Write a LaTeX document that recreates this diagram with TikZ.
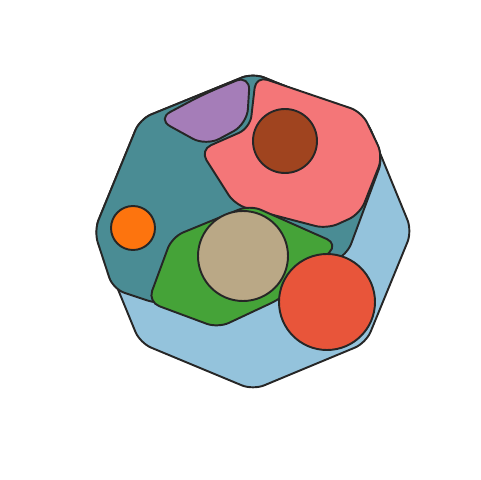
\documentclass[tikz,border=0pt]{standalone}
\usepackage{xcolor}
\usepackage{tikz}

\definecolor{skyblue}{HTML}{94C3DC}
\definecolor{tealgray}{HTML}{4A8C94}
\definecolor{lilac}{HTML}{A57DB8}
\definecolor{salmon}{HTML}{F47678}
\definecolor{rust}{HTML}{A0441F}
\definecolor{leaf}{HTML}{45A338}
\definecolor{sand}{HTML}{BAA886}
\definecolor{tangerine}{HTML}{FD740E}
\definecolor{tomato}{HTML}{E8553A}
\definecolor{edge}{HTML}{262626}

\begin{document}
\begin{tikzpicture}[x={(0.02cm,0)}, y={(0,-0.02cm)},
    region/.style={draw=edge, line width=1.1pt, rounded corners=2.4mm, line join=round}]
    \useasboundingbox (0,0) rectangle (480,480);

    % Outer octagon
    \draw[region, fill=skyblue] (253,73) -- (366,119) -- (412,231) -- (366,343)
        -- (253,390) -- (140,343) -- (94,231) -- (140,119) -- cycle;

    % Teal cell
    \draw[region, fill=tealgray] (253,73) -- (366,119) -- (383,158) -- (347,255)
        -- (250,298) -- (158,304) -- (113,289) -- (94,231) -- (140,119) -- cycle;

    % Purple cell
    \draw[region, fill=lilac, rounded corners=3mm] (204,94) -- (250,75) -- (247,124)
        -- (206,146) -- (157,119) -- cycle;

    % Pink cell
    \draw[region, fill=salmon] (256,76) -- (362,112) -- (383,156) -- (360,214)
        -- (327,229) -- (235,205) -- (200,150) -- (250,128) -- cycle;

    % Green cell
    \draw[region, fill=leaf] (250,205) -- (338,244) -- (282,298) -- (218,328)
        -- (148,302) -- (172,237) -- cycle;

    % Circles
    \draw[region, fill=rust] (285,141) circle[radius=32];
    \draw[region, fill=sand] (243,256) circle[radius=45];
    \draw[region, fill=tangerine] (133,228) circle[radius=22];
    \draw[region, fill=tomato] (327,302) circle[radius=48];

\end{tikzpicture}
\end{document}
